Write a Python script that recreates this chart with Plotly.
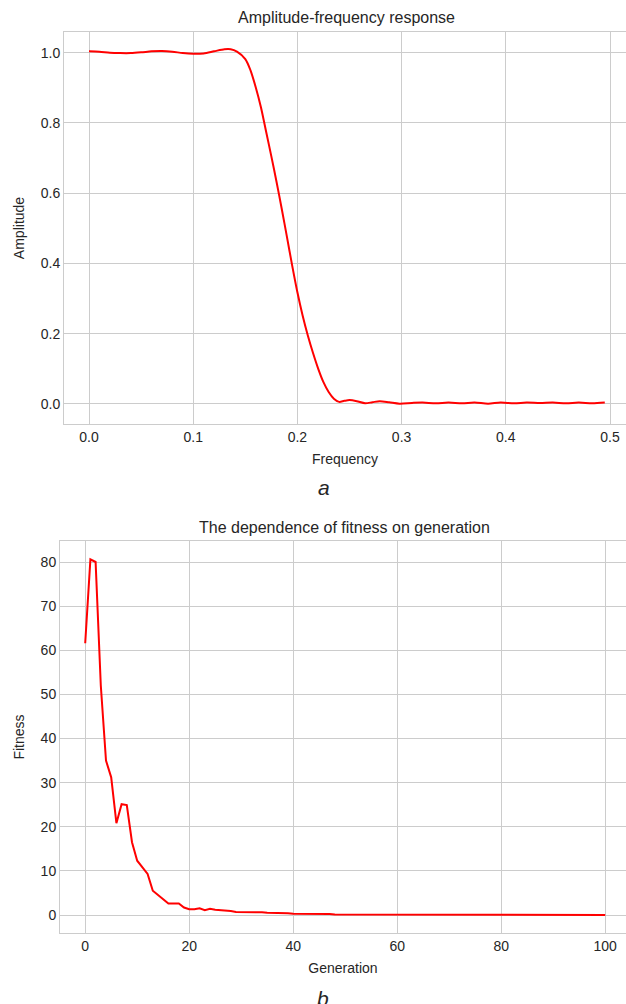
import plotly.graph_objects as go

# ---- Data: amplitude-frequency response ----
freq = [0.000, 0.010, 0.020, 0.030, 0.040, 0.050, 0.060, 0.070, 0.080, 0.090,
        0.100, 0.110, 0.120, 0.130, 0.136, 0.142, 0.150, 0.155, 0.160, 0.165,
        0.170, 0.175, 0.180, 0.185, 0.190, 0.195, 0.200, 0.205, 0.210, 0.215,
        0.220, 0.225, 0.230, 0.235, 0.240, 0.245, 0.250, 0.257, 0.265, 0.272,
        0.279, 0.288, 0.298, 0.310, 0.320, 0.333, 0.345, 0.358, 0.370, 0.383,
        0.395, 0.408, 0.420, 0.433, 0.445, 0.458, 0.470, 0.483, 0.495]
amplitude = [1.004, 1.003, 1.000, 0.999, 0.999, 1.001, 1.004, 1.005, 1.003, 0.999,
             0.997, 0.998, 1.004, 1.010, 1.010, 1.003, 0.982, 0.950, 0.902, 0.845,
             0.775, 0.705, 0.632, 0.555, 0.475, 0.394, 0.318, 0.252, 0.195, 0.145,
             0.100, 0.062, 0.034, 0.015, 0.006, 0.009, 0.011, 0.008, 0.002, 0.005,
             0.008, 0.005, 0.001, 0.003, 0.004, 0.002, 0.004, 0.002, 0.004, 0.001,
             0.004, 0.002, 0.004, 0.003, 0.004, 0.002, 0.004, 0.002, 0.004]

# ---- Data: fitness vs generation ----
generation = list(range(0, 101))
fitness = [61.6, 80.6, 80.0, 52.0, 35.0, 31.2, 20.8, 25.1, 24.9, 16.5,
           12.3, 10.8, 9.3, 5.5, 4.6, 3.7, 2.6, 2.6, 2.6, 1.7,
           1.3, 1.3, 1.5, 1.1, 1.4, 1.2, 1.1, 1.1, 0.9, 0.7,
           0.7, 0.7, 0.7, 0.6, 0.6, 0.5, 0.5, 0.4, 0.4, 0.4,
           0.3, 0.3, 0.3, 0.3, 0.2, 0.2, 0.2, 0.2, 0.1, 0.1,
           0.1, 0.1, 0.1, 0.1, 0.1, 0.05, 0.05, 0.05, 0.05, 0.05,
           0.05, 0.05, 0.05, 0.05, 0.05, 0.04, 0.04, 0.04, 0.04, 0.04,
           0.03, 0.03, 0.03, 0.03, 0.03, 0.02, 0.02, 0.02, 0.02, 0.02,
           0.02, 0.02, 0.02, 0.02, 0.02, 0.01, 0.01, 0.01, 0.01, 0.01,
           0.01, 0.01, 0.01, 0.01, 0.01, 0.01, 0.01, 0.01, 0.01, 0.01,
           0.01]

top_xticks = [0.0, 0.1, 0.2, 0.3, 0.4, 0.5]
top_yticks = [0.0, 0.2, 0.4, 0.6, 0.8, 1.0]
bot_xticks = [0, 20, 40, 60, 80, 100]
bot_yticks = [0, 10, 20, 30, 40, 50, 60, 70, 80]

W, H = 626, 1004
FONT = "Liberation Sans, Arial, Helvetica, sans-serif"
TXT = "#262626"
GRID = "#cccccc"

def px(x):
    return x / W

def py(y):
    return 1 - y / H

fig = go.Figure()
fig.add_trace(go.Scatter(x=freq, y=amplitude, mode="lines",
                         line=dict(color="#ff0000", width=2, shape="spline", smoothing=0.8),
                         xaxis="x", yaxis="y", showlegend=False))
fig.add_trace(go.Scatter(x=generation, y=fitness, mode="lines",
                         line=dict(color="#ff0000", width=2),
                         xaxis="x2", yaxis="y2", showlegend=False))

axis_common = dict(showgrid=True, gridcolor=GRID, gridwidth=1, zeroline=False,
                   showline=True, linecolor=GRID, linewidth=1, ticks="", automargin=False,
                   tickfont=dict(family=FONT, size=14, color=TXT))

fig.update_layout(
    width=W, height=H,
    margin=dict(l=0, r=0, t=0, b=0),
    paper_bgcolor="white", plot_bgcolor="white",
    font=dict(family=FONT, color=TXT),
    xaxis=dict(domain=[px(64), 1.0], range=[(64 - 89) / 1042, (626 - 89) / 1042],
               tickvals=top_xticks, tickformat=".1f", anchor="y", mirror=True,
               title=dict(text="Frequency", font=dict(family=FONT, size=14, color=TXT), standoff=10),
               **axis_common),
    yaxis=dict(domain=[py(424), py(32)], range=[-0.057, 1.059],
               tickvals=top_yticks, tickformat=".1f", anchor="x",
               title=dict(text="Amplitude", font=dict(family=FONT, size=14, color=TXT), standoff=12),
               **axis_common),
    xaxis2=dict(domain=[px(60), 1.0], range=[(60 - 85.2) / 5.2, (626 - 85.2) / 5.2],
                tickvals=bot_xticks, anchor="y2", mirror=True,
                title=dict(text="Generation", font=dict(family=FONT, size=14, color=TXT), standoff=10),
                **axis_common),
    yaxis2=dict(domain=[py(933), py(541)], range=[-4.08, 84.76],
                tickvals=bot_yticks, anchor="x2",
                title=dict(text="Fitness", font=dict(family=FONT, size=14, color=TXT), standoff=12),
                **axis_common),
    annotations=[
        dict(text="Amplitude-frequency response", x=px(346), y=py(18), xref="paper", yref="paper",
             xanchor="center", yanchor="middle", showarrow=False,
             font=dict(family=FONT, size=16, color=TXT)),
        dict(text="The dependence of fitness on generation", x=px(344), y=py(527), xref="paper", yref="paper",
             xanchor="center", yanchor="middle", showarrow=False,
             font=dict(family=FONT, size=16, color=TXT)),
        dict(text="<i>a</i>", x=px(324), y=py(487), xref="paper", yref="paper",
             xanchor="center", yanchor="middle", showarrow=False,
             font=dict(family=FONT, size=21, color=TXT)),
        dict(text="<i>b</i>", x=px(323), y=py(998), xref="paper", yref="paper",
             xanchor="center", yanchor="middle", showarrow=False,
             font=dict(family=FONT, size=21, color=TXT)),
    ],
)

fig.write_html("out.html", config={"displayModeBar": False},
               post_script="document.body.style.margin='0';document.body.style.overflow='hidden';")
